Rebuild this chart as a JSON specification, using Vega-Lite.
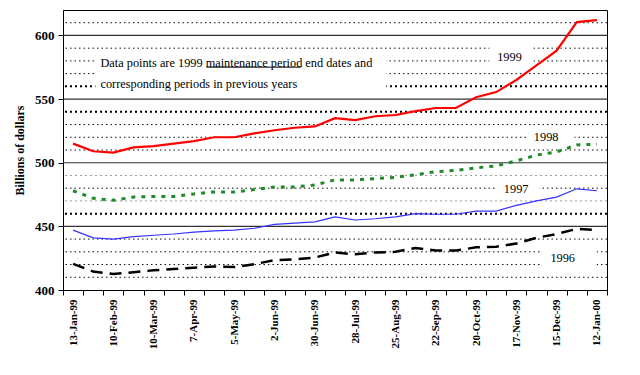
{
  "$schema": "https://vega.github.io/schema/vega-lite/v6.json",
  "width": 544,
  "height": 280,
  "autosize": "none",
  "padding": {"left": 63, "top": 10, "right": 33, "bottom": 85},
  "background": "white",
  "config": {
    "view": {"stroke": "#000", "strokeWidth": 1},
    "font": "Liberation Serif",
    "axisY": {
      "titleFont": "Liberation Serif",
      "titleFontWeight": "bold",
      "titleFontSize": 12,
      "titleColor": "#000",
      "titleX": -44,
      "titleY": 140,
      "titleAngle": -90,
      "titleAlign": "center",
      "titleBaseline": "middle",
      "labelFont": "Liberation Serif",
      "labelFontWeight": "bold",
      "labelFontSize": 13,
      "labelColor": "#000",
      "labelPadding": 4,
      "tickColor": "#000",
      "tickSize": 5,
      "domainColor": "#000",
      "grid": false
    }
  },
  "datasets": {
    "series": [
      {"date": "13-Jan-99", "y1999": 515, "y1998": 478, "y1997": 447, "y1996": 420.5},
      {"date": "27-Jan-99", "y1999": 509, "y1998": 472, "y1997": 441, "y1996": 414.5},
      {"date": "10-Feb-99", "y1999": 508, "y1998": 470.5, "y1997": 440, "y1996": 412.5},
      {"date": "24-Feb-99", "y1999": 512, "y1998": 473, "y1997": 442, "y1996": 414},
      {"date": "10-Mar-99", "y1999": 513, "y1998": 473.5, "y1997": 443, "y1996": 415.5},
      {"date": "24-Mar-99", "y1999": 515, "y1998": 473.5, "y1997": 444, "y1996": 416.5},
      {"date": "7-Apr-99", "y1999": 517, "y1998": 475.5, "y1997": 445.5, "y1996": 417.5},
      {"date": "21-Apr-99", "y1999": 520, "y1998": 477, "y1997": 446.5, "y1996": 418.5},
      {"date": "5-May-99", "y1999": 520, "y1998": 477, "y1997": 447, "y1996": 418},
      {"date": "19-May-99", "y1999": 523, "y1998": 479, "y1997": 448.5, "y1996": 420.3},
      {"date": "2-Jun-99", "y1999": 525.5, "y1998": 481, "y1997": 451.5, "y1996": 423.5},
      {"date": "16-Jun-99", "y1999": 527.5, "y1998": 481, "y1997": 452.5, "y1996": 424},
      {"date": "30-Jun-99", "y1999": 528.5, "y1998": 482.5, "y1997": 453.5, "y1996": 425.5},
      {"date": "14-Jul-99", "y1999": 535, "y1998": 486.5, "y1997": 457.5, "y1996": 429.5},
      {"date": "28-Jul-99", "y1999": 533.5, "y1998": 486.5, "y1997": 455, "y1996": 428},
      {"date": "11-Aug-99", "y1999": 536.5, "y1998": 487.5, "y1997": 456, "y1996": 429.5},
      {"date": "25-Aug-99", "y1999": 537.5, "y1998": 488.5, "y1997": 457.5, "y1996": 430},
      {"date": "8-Sep-99", "y1999": 540.5, "y1998": 490.5, "y1997": 460, "y1996": 433},
      {"date": "22-Sep-99", "y1999": 543, "y1998": 493, "y1997": 459.5, "y1996": 431},
      {"date": "6-Oct-99", "y1999": 543, "y1998": 494, "y1997": 459.5, "y1996": 431},
      {"date": "20-Oct-99", "y1999": 551.5, "y1998": 496, "y1997": 462, "y1996": 433.5},
      {"date": "3-Nov-99", "y1999": 555.5, "y1998": 497.5, "y1997": 462, "y1996": 434},
      {"date": "17-Nov-99", "y1999": 565, "y1998": 501.5, "y1997": 466.5, "y1996": 436.5},
      {"date": "1-Dec-99", "y1999": 576.5, "y1998": 506, "y1997": 470, "y1996": 441},
      {"date": "15-Dec-99", "y1999": 588, "y1998": 508.5, "y1997": 473, "y1996": 444},
      {"date": "29-Dec-99", "y1999": 610.5, "y1998": 514, "y1997": 479.5, "y1996": 448},
      {"date": "12-Jan-00", "y1999": 612, "y1998": 514.5, "y1997": 478, "y1996": 447}
    ],
    "gridSolid": [{"v": 450}, {"v": 500}, {"v": 550}, {"v": 600}],
    "gridThick": [{"v": 460}, {"v": 540}, {"v": 560}],
    "gridDot": [{"v": 410}, {"v": 420}, {"v": 430}, {"v": 440}, {"v": 480}, {"v": 510}, {"v": 520}, {"v": 530}, {"v": 570}, {"v": 580}, {"v": 590}, {"v": 610}],
    "gridGray": [{"v": 470}, {"v": 490}],
    "boxes": [
      {"x": 1.11, "x2": 15.55, "y": 553, "y2": 587},
      {"x": 20.66, "x2": 22.85, "y": 575, "y2": 594},
      {"x": 22.5, "x2": 24.88, "y": 515, "y2": 525},
      {"x": 21.0, "x2": 23.14, "y": 475, "y2": 485},
      {"x": 23.2, "x2": 25.98, "y": 416, "y2": 434}
    ],
    "notes": [
      {"x": 1.36, "y": 578.6, "text": "Data points are 1999 maintenance period end dates and"},
      {"x": 1.36, "y": 562.1, "text": "corresponding periods in previous years"}
    ],
    "underline": [{"x": 6.62, "x2": 11.3, "y": 575.1}],
    "yearLabels": [
      {"x": 21.66, "y": 582.7, "text": "1999"},
      {"x": 23.48, "y": 520.3, "text": "1998"},
      {"x": 21.99, "y": 479.2, "text": "1997"},
      {"x": 24.3, "y": 424.8, "text": "1996"}
    ]
  },
  "resolve": {"scale": {"x": "independent"}, "axis": {"x": "independent"}},
  "layer": [
    {
      "layer": [
        {
          "data": {"name": "gridDot"},
          "mark": {"type": "rule", "stroke": "#111", "strokeWidth": 1, "strokeDash": [1.5, 3]},
          "encoding": {"y": {"field": "v", "type": "quantitative", "title": "Billions of dollars", "axis": {"values": [400, 450, 500, 550, 600]}, "scale": {"domain": [400, 620], "nice": false, "zero": false}}}
        },
        {
          "data": {"name": "gridGray"},
          "mark": {"type": "rule", "stroke": "#9a9a9a", "strokeWidth": 1, "strokeDash": [2, 3]},
          "encoding": {"y": {"field": "v", "type": "quantitative", "title": "Billions of dollars", "axis": {"values": [400, 450, 500, 550, 600]}}}
        },
        {
          "data": {"name": "gridThick"},
          "mark": {"type": "rule", "stroke": "#000", "strokeWidth": 2, "strokeDash": [2, 3]},
          "encoding": {"y": {"field": "v", "type": "quantitative", "title": "Billions of dollars", "axis": {"values": [400, 450, 500, 550, 600]}}}
        },
        {
          "data": {"name": "gridSolid"},
          "mark": {"type": "rule", "stroke": "#333", "strokeWidth": 1.2},
          "encoding": {"y": {"field": "v", "type": "quantitative", "title": "Billions of dollars", "axis": {"values": [400, 450, 500, 550, 600]}}}
        },
        {
          "data": {"name": "boxes"},
          "mark": {"type": "rect", "fill": "white", "stroke": null},
          "encoding": {
            "x": {"field": "x", "type": "quantitative", "scale": {"domain": [-0.5, 26.5], "nice": false, "zero": false}, "axis": null},
            "x2": {"field": "x2"},
            "y": {"field": "y", "type": "quantitative", "title": "Billions of dollars", "axis": {"values": [400, 450, 500, 550, 600]}},
            "y2": {"field": "y2"}
          }
        }
      ]
    },
    {
      "data": {"name": "series"},
      "encoding": {
        "x": {
          "field": "date",
          "type": "ordinal",
          "sort": null,
          "bandPosition": 0.5,
          "scale": {"type": "band", "paddingInner": 0, "paddingOuter": 0},
          "axis": {
            "title": null,
            "tickBand": "extent",
            "labelAngle": -90,
            "labelFont": "Liberation Serif",
            "labelFontWeight": "bold",
            "labelFontSize": 11,
            "labelColor": "#000",
            "labelPadding": 4,
            "labelOverlap": false,
            "labelExpr": "indexof(['13-Jan-99','10-Feb-99','10-Mar-99','7-Apr-99','5-May-99','2-Jun-99','30-Jun-99','28-Jul-99','25-Aug-99','22-Sep-99','20-Oct-99','17-Nov-99','15-Dec-99','12-Jan-00'], datum.value) >= 0 ? datum.value : ''",
            "tickColor": "#000",
            "tickSize": 5,
            "domainColor": "#000",
            "grid": false
          }
        }
      },
      "layer": [
        {
          "mark": {"type": "line", "stroke": "#000", "strokeWidth": 2.5, "strokeDash": [12, 7]},
          "encoding": {"y": {"field": "y1996", "type": "quantitative", "title": "Billions of dollars", "axis": {"values": [400, 450, 500, 550, 600]}}}
        },
        {
          "mark": {"type": "line", "stroke": "#3333ff", "strokeWidth": 1.2},
          "encoding": {"y": {"field": "y1997", "type": "quantitative", "title": "Billions of dollars", "axis": {"values": [400, 450, 500, 550, 600]}}}
        },
        {
          "mark": {"type": "line", "stroke": "#1f8a2a", "strokeWidth": 3, "strokeDash": [4, 6]},
          "encoding": {"y": {"field": "y1998", "type": "quantitative", "title": "Billions of dollars", "axis": {"values": [400, 450, 500, 550, 600]}}}
        },
        {
          "mark": {"type": "line", "stroke": "#ff0000", "strokeWidth": 2.2},
          "encoding": {"y": {"field": "y1999", "type": "quantitative", "title": "Billions of dollars", "axis": {"values": [400, 450, 500, 550, 600]}}}
        }
      ]
    },
    {
      "layer": [
        {
          "data": {"name": "notes"},
          "mark": {"type": "text", "align": "left", "baseline": "middle", "font": "Liberation Serif", "fontSize": 12.3, "color": "#000"},
          "encoding": {
            "x": {"field": "x", "type": "quantitative", "scale": {"domain": [-0.5, 26.5], "nice": false, "zero": false}, "axis": null},
            "y": {"field": "y", "type": "quantitative", "title": "Billions of dollars", "axis": {"values": [400, 450, 500, 550, 600]}},
            "text": {"field": "text"}
          }
        },
        {
          "data": {"name": "underline"},
          "mark": {"type": "rule", "stroke": "#000", "strokeWidth": 1},
          "encoding": {
            "x": {"field": "x", "type": "quantitative", "axis": null},
            "x2": {"field": "x2"},
            "y": {"field": "y", "type": "quantitative", "title": "Billions of dollars", "axis": {"values": [400, 450, 500, 550, 600]}}
          }
        },
        {
          "data": {"name": "yearLabels"},
          "mark": {"type": "text", "align": "center", "baseline": "middle", "font": "Liberation Serif", "fontSize": 12.3, "color": "#000"},
          "encoding": {
            "x": {"field": "x", "type": "quantitative", "axis": null},
            "y": {"field": "y", "type": "quantitative", "title": "Billions of dollars", "axis": {"values": [400, 450, 500, 550, 600]}},
            "text": {"field": "text"}
          }
        }
      ]
    }
  ]
}
